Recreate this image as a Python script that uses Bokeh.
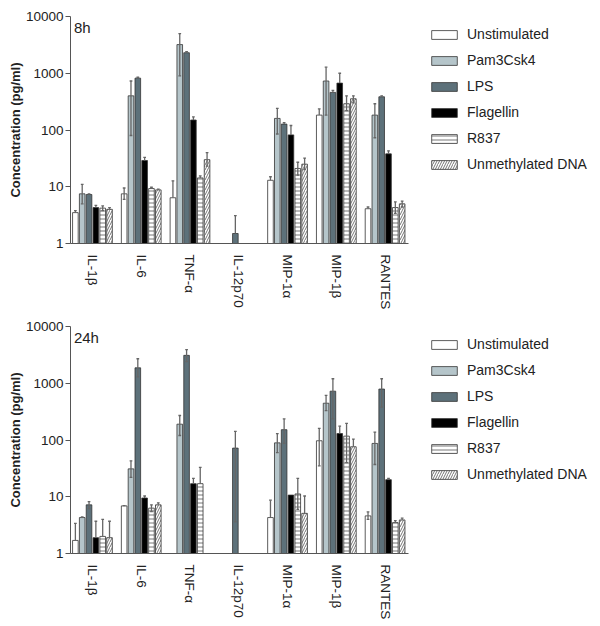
from bokeh.plotting import figure
from bokeh.models import (ColumnDataSource, FixedTicker, PrintfTickFormatter, Legend,
                          LegendItem, Label, Range1d)
from bokeh.layouts import column
from bokeh.embed import file_html
from bokeh.resources import INLINE

categories = ["IL-1\u03b2", "IL-6", "TNF-\u03b1", "IL-12p70", "MIP-1\u03b1", "MIP-1\u03b2", "RANTES"]
treatments = ["Unstimulated", "Pam3Csk4", "LPS", "Flagellin", "R837", "Unmethylated DNA"]
y_ticks = [1, 10, 100, 1000, 10000]

# ---- 8 h ----
unstim_8h = [3.5, 7.5, 6.4, None, 13, 183, 4.1]
unstim_8h_hi = [3.8, 9.5, 12.7, None, 15, 235, 4.4]
unstim_8h_lo = [None, 6.0, None, None, None, None, None]
pam_8h = [7.5, 400, 3200, None, 160, 730, 183]
pam_8h_hi = [11, 730, 5000, None, 240, 1280, 290]
pam_8h_lo = [5.0, 80, 900, None, 85, 183, 73]
lps_8h = [7.3, 820, 2300, 1.5, 127, 460, 385]
lps_8h_hi = [7.5, 850, 2400, 3.1, 135, 500, 400]
lps_8h_lo = [None, None, None, None, None, None, None]
flag_8h = [4.3, 29, 150, None, 82, 670, 38]
flag_8h_hi = [4.7, 33, 170, None, 120, 1000, 43]
flag_8h_lo = [None, None, None, None, None, None, None]
r837_8h = [4.2, 9.3, 14.3, None, 21, 290, 4.3]
r837_8h_hi = [4.6, 9.8, 15.5, None, 27, 400, 5.4]
r837_8h_lo = [3.8, None, None, None, 16, 220, 3.4]
dna_8h = [4.0, 8.8, 30, None, 25, 355, 5.0]
dna_8h_hi = [4.3, 9.1, 40, None, 32, 400, 5.6]
dna_8h_lo = [None, None, 23, None, 20, 300, 4.4]

# ---- 24 h ----
unstim_24h = [1.7, 6.9, None, None, 4.3, 97, 4.6]
unstim_24h_hi = [3.4, 7.0, None, None, 8.7, 160, 5.4]
unstim_24h_lo = [None, None, None, None, None, 35, 4.0]
pam_24h = [4.3, 31, 190, None, 89, 445, 87]
pam_24h_hi = [4.4, 43, 270, None, 130, 610, 138]
pam_24h_lo = [None, 22, 120, None, 60, 330, 37]
lps_24h = [7.2, 1870, 3100, 72, 152, 725, 790]
lps_24h_hi = [8.2, 2700, 3900, 142, 235, 1200, 1200]
lps_24h_lo = [6.2, 1300, 2400, 3.6, 87, 235, 380]
flag_24h = [1.9, 9.5, 17, None, 10.7, 130, 20]
flag_24h_hi = [3.7, 10.3, 21, None, None, 175, 21]
flag_24h_lo = [None, None, None, None, None, None, None]
r837_24h = [2.0, 6.3, 17, None, 11.2, 117, 3.5]
r837_24h_hi = [4.0, 7.2, 33, None, 21, 197, 3.8]
r837_24h_lo = [None, 5.5, None, None, 6.0, 40, None]
dna_24h = [1.9, 7.2, None, None, 5.1, 76, 3.9]
dna_24h_hi = [3.7, 7.8, None, None, 10.3, 104, 4.2]
dna_24h_lo = [None, None, None, None, None, None, None]

data_8h = [(unstim_8h, unstim_8h_hi, unstim_8h_lo), (pam_8h, pam_8h_hi, pam_8h_lo),
           (lps_8h, lps_8h_hi, lps_8h_lo), (flag_8h, flag_8h_hi, flag_8h_lo),
           (r837_8h, r837_8h_hi, r837_8h_lo), (dna_8h, dna_8h_hi, dna_8h_lo)]
data_24h = [(unstim_24h, unstim_24h_hi, unstim_24h_lo), (pam_24h, pam_24h_hi, pam_24h_lo),
            (lps_24h, lps_24h_hi, lps_24h_lo), (flag_24h, flag_24h_hi, flag_24h_lo),
            (r837_24h, r837_24h_hi, r837_24h_lo), (dna_24h, dna_24h_hi, dna_24h_lo)]

styles = [
    dict(fill_color="white"),
    dict(fill_color="#b5c5ca"),
    dict(fill_color="#5d717a"),
    dict(fill_color="black"),
    dict(fill_color="white", hatch_pattern="horizontal_line", hatch_color="#777777",
         hatch_scale=4, hatch_weight=1),
    dict(fill_color="white", hatch_pattern="right_diagonal_line", hatch_color="#777777",
         hatch_scale=5, hatch_weight=1),
]

FONT = "Liberation Sans"
STEP = 0.14
WIDTH = 0.115


def make_panel(data, title, border_top):
    p = figure(frame_width=338, frame_height=227, y_axis_type="log",
               x_range=Range1d(-0.45, 6.48), y_range=Range1d(1, 10000),
               output_backend="svg", toolbar_location=None,
               min_border_left=70, min_border_top=border_top, min_border_bottom=4,
               min_border_right=0)
    p.outline_line_color = None
    p.xgrid.visible = False
    p.ygrid.visible = False

    items = []
    for k, (vals, his, los) in enumerate(data):
        off = (k - 2.5) * STEP
        xs, ys = [], []
        ex, e0, e1 = [], [], []
        cx0, cx1, cy = [], [], []
        for i, v in enumerate(vals):
            if v is None:
                continue
            x = i + off
            xs.append(x)
            ys.append(v)
            hi = his[i]
            lo = los[i]
            if hi is not None:
                bottom = lo if lo is not None else v
                ex.append(x); e0.append(bottom); e1.append(hi)
                cx0.append(x - 0.028); cx1.append(x + 0.028); cy.append(hi)
                if lo is not None:
                    cx0.append(x - 0.028); cx1.append(x + 0.028); cy.append(lo)
        src = ColumnDataSource(dict(x=xs, top=ys, bottom=[1] * len(xs)))
        r = p.vbar(x="x", top="top", bottom="bottom", width=WIDTH, source=src,
                   line_color="#333333", line_width=0.8, **styles[k])
        items.append(LegendItem(label=treatments[k], renderers=[r]))
        p.segment(x0=ex, y0=e0, x1=ex, y1=e1, line_color="#666666", line_width=1.3)
        p.segment(x0=cx0, y0=cy, x1=cx1, y1=cy, line_color="#666666", line_width=1.3)

    legend = Legend(items=items, location=(20, 71), glyph_width=32, glyph_height=11,
                    label_text_font=FONT, label_text_font_size="14px",
                    label_text_color="#222222", spacing=10, label_standoff=7,
                    border_line_color=None, background_fill_alpha=0,
                    margin=0, padding=0, label_height=11)
    p.add_layout(legend, "right")

    p.yaxis.ticker = FixedTicker(ticks=y_ticks)
    p.yaxis.formatter = PrintfTickFormatter(format="%d")
    p.yaxis.minor_tick_line_color = None
    p.yaxis.major_tick_out = 5
    p.yaxis.major_tick_in = 0
    p.yaxis.major_label_standoff = 2
    p.yaxis.major_label_text_font = FONT
    p.yaxis.major_label_text_font_size = "13.5px"
    p.yaxis.major_label_text_color = "#222222"
    p.yaxis.axis_line_color = "#555555"
    p.yaxis.major_tick_line_color = "#555555"
    p.yaxis.axis_label = "Concentration (pg/ml)"
    p.yaxis.axis_label_text_font = FONT
    p.yaxis.axis_label_text_font_style = "bold"
    p.yaxis.axis_label_text_font_size = "13px"
    p.yaxis.axis_label_text_color = "#222222"
    p.yaxis.axis_label_standoff = 0

    p.xaxis.ticker = FixedTicker(ticks=list(range(len(categories))))
    p.xaxis.major_label_overrides = {i: c for i, c in enumerate(categories)}
    p.xaxis.major_label_orientation = "vertical"
    p.xaxis.major_tick_line_color = None
    p.xaxis.minor_tick_line_color = None
    p.xaxis.major_label_standoff = 5
    p.xaxis.major_label_text_font = FONT
    p.xaxis.major_label_text_font_size = "13.5px"
    p.xaxis.major_label_text_color = "#222222"
    p.xaxis.axis_line_color = "#555555"

    p.add_layout(Label(x=-0.38, y=10000, text=title, text_baseline="top", y_offset=-2,
                       text_font=FONT, text_font_size="15px", text_color="#222222"))
    return p


p1 = make_panel(data_8h, "8h", 16)
p2 = make_panel(data_24h, "24h", 14)
p = column(p1, p2, spacing=0)

open("out.html", "w").write(file_html(p, INLINE))
